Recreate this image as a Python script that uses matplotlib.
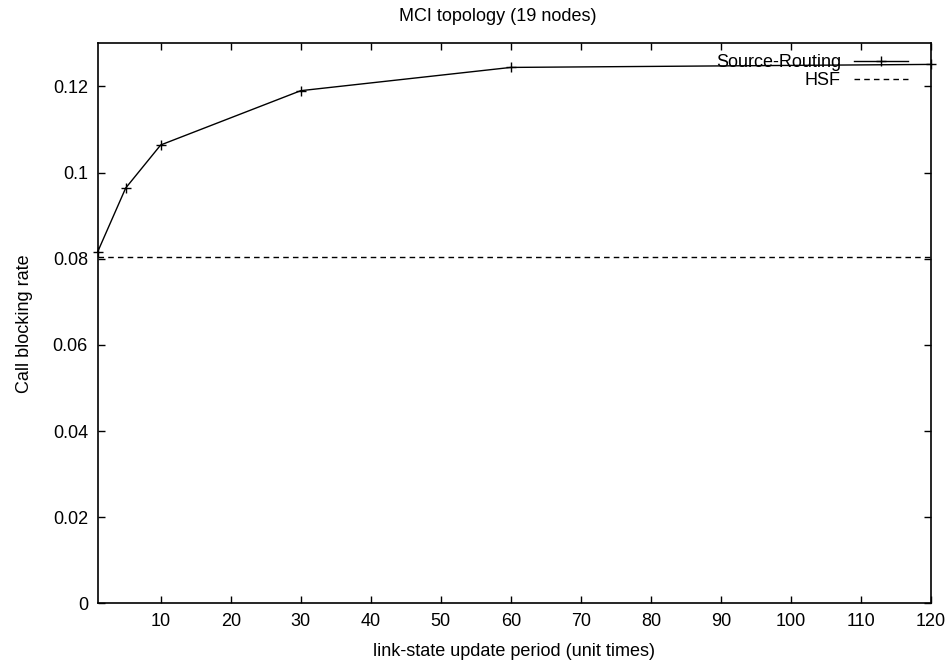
import matplotlib
matplotlib.use("Agg")
import matplotlib.pyplot as plt

plt.rcParams['font.family'] = ['Liberation Sans', 'DejaVu Sans']

# data
period = [1, 5, 10, 30, 60, 120]
source_routing = [0.0816, 0.0964, 0.1064, 0.1190, 0.1244, 0.1251]
hsf_level = 0.0805

x_ticks = [10, 20, 30, 40, 50, 60, 70, 80, 90, 100, 110, 120]
y_ticks = [0, 0.02, 0.04, 0.06, 0.08, 0.1, 0.12]
y_tick_labels = ['0', '0.02', '0.04', '0.06', '0.08', '0.1', '0.12']

fig = plt.figure(figsize=(9.52, 6.63), dpi=100)
ax = fig.add_axes([0.1026, 0.090, 0.8754, 0.8447])

ax.plot(period, source_routing, color='black', linewidth=1.0, marker='+',
        markersize=7, markeredgewidth=1.0, label='Source-Routing', clip_on=False)
ax.axhline(hsf_level, color='black', linewidth=1.0, linestyle=(0, (4, 3)), label='HSF')

ax.set_xlim(1, 120)
ax.set_ylim(0, 0.13)
ax.set_xticks(x_ticks)
ax.set_yticks(y_ticks)
ax.set_yticklabels(y_tick_labels)
ax.tick_params(direction='in', length=5, width=1, top=True, right=True,
               labelsize=13, pad=7)
for s in ax.spines.values():
    s.set_linewidth(1.2)

ax.set_title('MCI topology (19 nodes)', fontsize=13, pad=16, x=0.48)
ax.set_xlabel('link-state update period (unit times)', fontsize=13, labelpad=9)
ax.set_ylabel('Call blocking rate', fontsize=13, labelpad=14)

leg = ax.legend(loc='upper right', frameon=False, markerfirst=False, fontsize=13,
                handlelength=3.0, borderaxespad=0.4, labelspacing=0.05,
                handletextpad=0.7, borderpad=0.2)
leg.set_bbox_to_anchor((0.985, 1.0), transform=ax.transAxes)

fig.savefig('out.png', dpi=100)
